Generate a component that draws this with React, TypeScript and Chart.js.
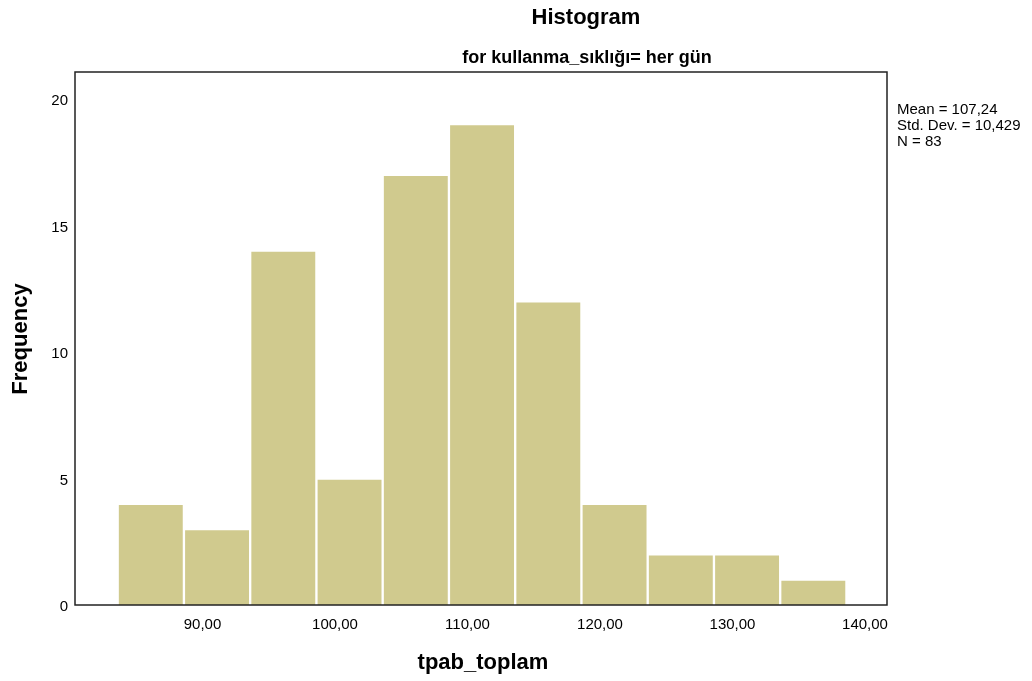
import React, { useEffect, useRef } from 'react';
import { Chart, registerables } from 'chart.js';

Chart.register(...registerables);

const binCenters = [86.1, 91.1, 96.1, 101.1, 106.1, 111.1, 116.1, 121.1, 126.1, 131.1, 136.1];
const frequencies = [4, 3, 14, 5, 17, 19, 12, 4, 2, 2, 1];
const xTickValues = [90, 100, 110, 120, 130, 140];
const yTickValues = [0, 5, 10, 15, 20];
const statsLines = ['Mean = 107,24', 'Std. Dev. = 10,429', 'N = 83'];
const chartTitle = 'Histogram';
const chartSubtitle = 'for kullanma_sıklığı= her gün';
const xTitle = 'tpab_toplam';
const yTitle = 'Frequency';

const FONT = '"Liberation Sans", Arial, sans-serif';

const textPlugin = {
  id: 'spssText',
  afterDraw(chart: any) {
    const { ctx, chartArea } = chart;
    ctx.save();
    // frame
    ctx.strokeStyle = '#222';
    ctx.lineWidth = 1.5;
    ctx.strokeRect(chartArea.left, chartArea.top, chartArea.right - chartArea.left, chartArea.bottom - chartArea.top);

    ctx.fillStyle = '#000';
    ctx.textAlign = 'center';
    ctx.textBaseline = 'middle';
    ctx.font = `bold 22px ${FONT}`;
    ctx.fillText(chartTitle, 586, 18);
    ctx.font = `bold 18px ${FONT}`;
    ctx.fillText(chartSubtitle, 587, 58);

    ctx.font = `bold 22px ${FONT}`;
    ctx.fillText(xTitle, 483, 663);
    ctx.save();
    ctx.translate(21, 339);
    ctx.rotate(-Math.PI / 2);
    ctx.fillText(yTitle, 0, 0);
    ctx.restore();

    ctx.textAlign = 'left';
    ctx.font = `15px ${FONT}`;
    statsLines.forEach((line, i) => {
      ctx.fillText(line, 897, 110 + i * 16);
    });
    ctx.restore();
  },
};

export default function App() {
  const canvasRef = useRef<HTMLCanvasElement | null>(null);

  useEffect(() => {
    const canvas = canvasRef.current;
    if (!canvas) return;
    const chart = new Chart(canvas, {
      type: 'bar',
      data: {
        datasets: [
          {
            data: binCenters.map((x, i) => ({ x, y: frequencies[i] })),
            backgroundColor: '#D0CA8E',
            borderColor: '#FFFFFF',
            borderWidth: 1.5,
            barPercentage: 1,
            categoryPercentage: 1,
          },
        ],
      },
      options: {
        animation: false,
        responsive: false,
        devicePixelRatio: 1,
        layout: { padding: { left: 0, top: 72, right: 145, bottom: 0 } },
        plugins: {
          legend: { display: false },
          title: { display: false },
          tooltip: { enabled: false },
        },
        scales: {
          x: {
            type: 'linear',
            min: 80.38,
            max: 141.66,
            offset: false,
            grid: { display: false, drawTicks: false },
            border: { display: false },
            afterBuildTicks: (scale: any) => {
              scale.ticks = xTickValues.map((v) => ({ value: v }));
            },
            afterFit: (scale: any) => {
              scale.height = 76;
            },
            ticks: {
              padding: 11,
              color: '#000',
              font: { family: FONT, size: 15 },
              maxRotation: 0,
              autoSkip: false,
              callback: (v: any) => Number(v).toFixed(2).replace('.', ','),
            },
          },
          y: {
            min: 0,
            max: 21.06,
            grid: { display: false, drawTicks: false },
            border: { display: false },
            afterBuildTicks: (scale: any) => {
              scale.ticks = yTickValues.map((v) => ({ value: v }));
            },
            afterFit: (scale: any) => {
              scale.width = 75;
            },
            ticks: {
              padding: 7,
              labelOffset: 2,
              color: '#000',
              font: { family: FONT, size: 15 },
              callback: (v: any) => String(v),
            },
          },
        },
      },
      plugins: [textPlugin],
    });
    return () => chart.destroy();
  }, []);

  return (
    <div style={{ position: 'absolute', left: 0, top: 0, width: 1032, height: 681, background: '#fff' }}>
      <canvas ref={canvasRef} width={1032} height={681} style={{ display: 'block' }} />
    </div>
  );
}
